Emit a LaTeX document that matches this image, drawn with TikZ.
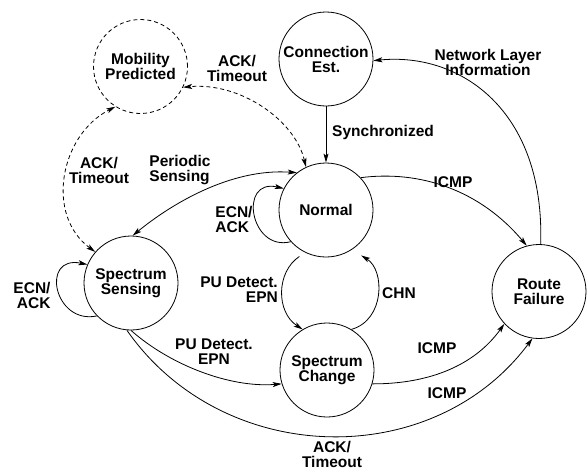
\documentclass[tikz,border=0pt]{standalone}
\usepackage{fontspec}
\setmainfont{Liberation Sans}
\usetikzlibrary{arrows.meta}
\begin{document}
\begin{tikzpicture}[x=1pt,y=-1pt,
  every node/.append style={font=\fontsize{15.5}{15}\selectfont\bfseries},
  st/.style={circle,draw,line width=0.8pt,minimum size=94pt,inner sep=0pt,align=center},
  lbl/.style={align=center,inner sep=0pt},
  tip/.tip={Stealth[length=9pt,width=5pt,inset=2pt]},
  arr/.style={line width=0.8pt,-tip},
  darr/.style={line width=0.8pt,tip-tip},
  dsh/.style={dash pattern=on 4pt off 3pt}]
\useasboundingbox (0,0) rectangle (588,471);

% states
\node[st,dsh] (mp) at (140.5,66.5) {Mobility\\Predicted};
\node[st] (ce) at (326,59) {Connection\\Est.};
\node[st] (no) at (326,210) {Normal};
\node[st] (ss) at (131,283) {Spectrum\\Sensing};
\node[st] (sc) at (327,370) {Spectrum\\Change};
\node[st] (rf) at (539,291.5) {Route\\Failure};

% Connection Est. -> Normal
\draw[arr] (ce) -- (no);
\node[lbl,anchor=west] (l1) at (332,132) {Synchronized};

% Route Failure -> Connection Est.
\draw[arr] (rf.88) .. controls (545,110) and (460,52) .. (ce.-2);
\node[lbl] (l2) at (488,62) {Network Layer\\Information};

% Normal -> Route Failure
\draw[arr] (no.43) .. controls (420,170) and (480,190) .. (rf.105);
\node[lbl] (l3) at (453,182) {ICMP};

% Normal <-> Spectrum Sensing
\draw[darr] (no.128) .. controls (230,168) and (170,205) .. (ss.88);
\node[lbl,align=left] (l4) at (180,170) {Periodic\\Sensing};

% Normal self loop
\draw[arr] (no.222) .. controls (250,252) and (238,178) .. (no.153);
\node[lbl,align=left] (l5) at (234,219) {ECN/\\ACK};

% Spectrum Sensing self loop
\draw[arr] (ss.224) .. controls (54,325) and (40,255) .. (ss.157);
\node[lbl,align=right] (l6) at (32,295) {ECN/\\ACK};

% Normal -> Spectrum Change
\draw[arr,shorten <=7pt] (no.244) .. controls (276,272) and (276,312) .. (sc.121);
\node[lbl,align=right,anchor=east] (l7) at (278,290) {PU Detect.\\EPN};

% Spectrum Change -> Normal
\draw[arr,shorten >=11pt] (sc.59) .. controls (385,320) and (385,270) .. (no.-57);
\node[lbl] (l8) at (399,293) {CHN};

% Spectrum Sensing -> Spectrum Change
\draw[arr] (ss.-90) .. controls (170,365) and (230,388) .. (sc.197);
\node[lbl] (l9) at (214,352) {PU Detect.\\EPN};

% Spectrum Change -> Route Failure
\draw[arr] (sc.-17) .. controls (430,384) and (475,365) .. (rf.223);
\node[lbl] (l10) at (437,348) {ICMP};

% Spectrum Sensing -> Route Failure
\draw[arr] (ss.-95) .. controls (223,468) and (433,472) .. (rf.262);
\node[lbl] (l11) at (447,393) {ICMP};
\node[lbl] (l12) at (332,454) {ACK/\\Timeout};

% dashed: Normal <-> Mobility Predicted
\draw[darr,dsh] (no.115) .. controls (295,120) and (240,82) .. (mp.-26);
\node[lbl] (l13) at (237,68) {ACK/\\Timeout};

% dashed: Spectrum Sensing <-> Mobility Predicted
\draw[darr,dsh] (ss.139) .. controls (45,215) and (60,135) .. (mp.238);
\node[lbl] (l14) at (99,170) {ACK/\\Timeout};
\end{tikzpicture}
\end{document}
